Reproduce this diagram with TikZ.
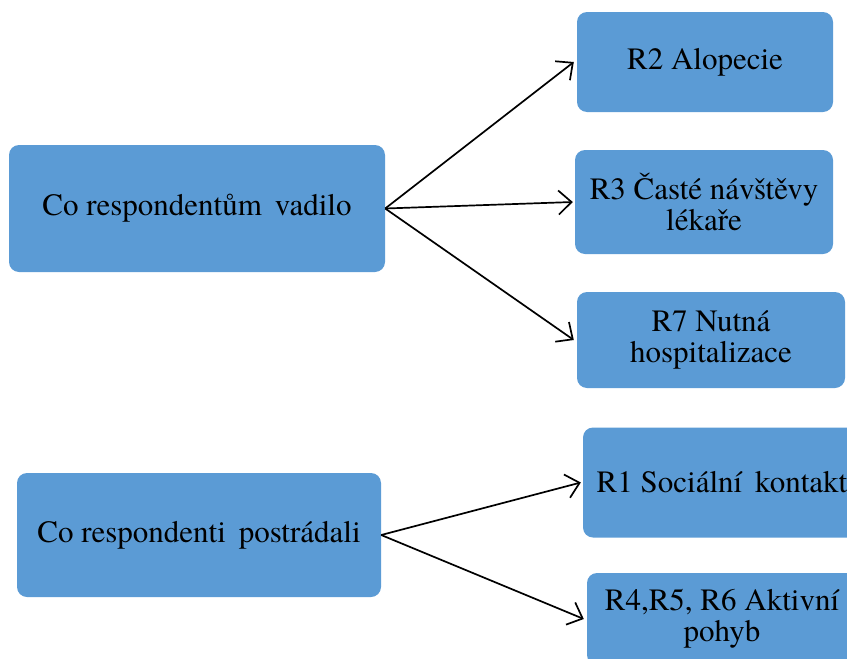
\documentclass[tikz,border=0pt]{standalone}
\usepackage{fontspec}
\setmainfont{TeX Gyre Termes}
\usetikzlibrary{arrows.meta}
\definecolor{boxblue}{HTML}{5B9BD5}
\begin{document}
\begin{tikzpicture}[x=1pt,y=-1pt,
  box/.style={rectangle, rounded corners=10pt, fill=boxblue, draw=none,
    align=center, inner sep=0pt, font=\fontsize{31}{31}\selectfont},
  link/.style={-{Straight Barb[length=13pt,width=24pt]}, line width=1.7pt, black}]
\useasboundingbox (0,0) rectangle (847,659);
% left-hand categories
\node[box, minimum width=376pt, minimum height=127pt] (vadilo) at (197,208.5) {Co respondentům\, vadilo};
\node[box, minimum width=364pt, minimum height=124pt] (postradali) at (199,535) {Co respondenti\, postrádali};
% right-hand items
\node[box, minimum width=256pt, minimum height=100pt] (r2) at (705,62) {R2 Alopecie};
\node[box, minimum width=258pt, minimum height=104pt] (r3) at (704,202) {R3 Časté návštěvy\\lékaře};
\node[box, minimum width=268pt, minimum height=96pt] (r7) at (711,340) {R7 Nutná\\hospitalizace};
\node[box, minimum width=278pt, minimum height=110pt] (r1) at (722,482.5) {R1 Sociální\, kontakt};
\node[box, minimum width=270pt, minimum height=92pt] (r4) at (722,619) {R4,R5, R6 Aktivní\\pohyb};
% connectors
\draw[link] (vadilo.east) -- ([xshift=-3pt]r2.west);
\draw[link] (vadilo.east) -- ([xshift=-2pt]r3.west);
\draw[link] (vadilo.east) -- ([xshift=-3pt]r7.west);
\draw[link] (postradali.east) -- ([xshift=-2pt]r1.west);
\draw[link] (postradali.east) -- ([xshift=-3pt]r4.west);
\end{tikzpicture}
\end{document}
